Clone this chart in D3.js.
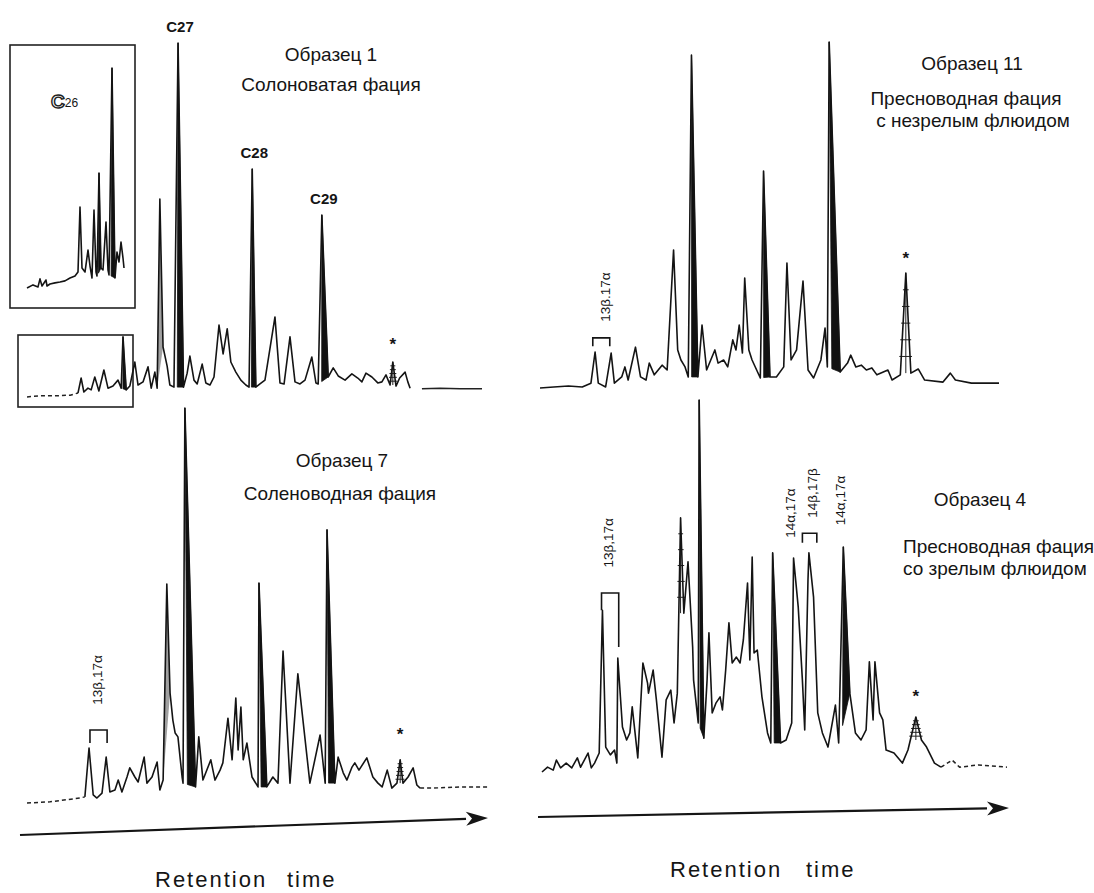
<!DOCTYPE html>
<html>
<head>
<meta charset="utf-8">
<script src="https://cdn.jsdelivr.net/npm/d3@7"></script>
<style>
  body { margin: 0; background: #fff; }
  text { font-family: "Liberation Sans", Arial, sans-serif; fill: #151515; }
</style>
</head>
<body>
<svg id="chart" width="1094" height="893"></svg>
<script>
// ---------- data: retention time (0-100) vs relative signal (0-100) ----------

// Образец 1 - main trace
var s1Lead = [[0,-1.4],[2.9,-1.1],[6.2,-1.1],[9.5,-0.9],[11.2,-0.3]];
var s1Trace = [[11.2,-0.3],[11.9,4.0],[12.5,0],[13.4,1.1],[14.1,0.6],[14.9,4.3],[15.8,0.3],[16.9,6.3],[17.8,1.1],[18.9,1.7],[20.0,3.4],[20.7,1.1],[21.1,15.8],[21.8,0.6],[22.6,1.7],[23.7,8.6],[24.4,2.0],[25.5,2.9],[26.6,7.2],[27.3,1.1],[28.1,5.7],[28.6,1.1],[29.2,55.3],[29.9,12.9],[30.8,7.4],[31.4,2.0],[32.3,1.4],[33.2,100],[34.4,1.4],[35.2,5.4],[35.8,10.3],[36.7,3.4],[37.4,2.3],[38.5,8.0],[39.3,2.6],[40.2,2.0],[41.1,4.3],[42.2,19.2],[43.1,10.9],[44.0,18.1],[44.8,8.6],[45.9,5.7],[47.0,3.4],[48.1,2.0],[48.8,1.4],[49.5,63.9],[50.3,1.4],[51.2,2.3],[52.3,3.4],[54.5,21.5],[55.6,2.6],[56.5,2.3],[57.8,15.8],[58.9,2.9],[60.0,2.3],[61.1,3.4],[62.6,10.0],[63.5,2.6],[64.0,2.3],[64.8,50.7],[66.2,4.3],[67.3,6.9],[68.4,4.6],[69.9,3.4],[71.4,5.2],[72.7,4.0],[73.6,2.9],[74.5,5.4],[75.8,4.3],[77.1,2.6],[78.0,2.9],[78.9,4.9],[79.8,2.0],[80.4,8.6],[81.1,1.7],[81.9,4.0],[83.1,5.7],[83.7,2.9],[84.2,1.1]];
var s1Tail = [[86.8,0.9],[90.8,1.1],[95.2,0.9],[100,0.9]];
var s1Filled = [21.1, 33.2, 49.5, 64.8];
var s1Grey = [29.2];
var s1Hatched = [80.4];
var s1Star = [80.4];
var s1LabelTimes = [33.2, 49.5, 64.8];
var s1LabelNames = ["C27", "C28", "C29"];
var s1Title = ["Образец 1", "Солоноватая фация"];

// Образец 1 - enlarged C26 window
var s1InsetTrace = [[0,0.9],[6,2.3],[11,1.4],[13,5.0],[15,1.8],[19,4.5],[20,1.8],[23,2.7],[28,3.2],[33,3.6],[38,4.1],[43,5.4],[48,6.3],[51,8.1],[53,37.4],[55,9.9],[58,8.1],[61,18.0],[63,10.8],[65,5.4],[67,36.0],[69,8.1],[70,6.3],[72,52.7],[74,9.9],[76,9.0],[79,30.6],[81,9.0],[82,6.8],[85,100],[88,5.4],[90,17.1],[92,12.6],[94,21.6],[96,14.4],[97,9.9]];
var s1InsetFilled = [72, 85];

// Образец 11
var s11Trace = [[0,0],[3.0,0.3],[6.2,0.6],[9.2,0.3],[11.1,1.4],[12.0,10.4],[12.7,1.4],[14.3,0.3],[15.5,10.1],[16.2,1.4],[17.8,3.2],[18.5,6.1],[19.2,2.3],[20.8,11.8],[21.9,3.2],[23.1,2.3],[23.8,7.2],[24.9,3.8],[26.6,6.6],[27.7,5.2],[29.1,39.9],[30.0,11.0],[30.7,8.1],[31.6,6.1],[32.3,3.2],[33.0,96.2],[34.4,3.2],[35.3,18.2],[36.3,5.2],[37.2,8.1],[38.1,11.0],[38.8,7.2],[40.0,8.1],[40.9,6.1],[42.0,13.9],[42.7,11.0],[43.4,18.2],[44.1,10.1],[44.6,31.8],[45.5,11.0],[46.2,8.1],[48.0,2.9],[48.7,62.7],[50.1,3.2],[51.5,3.2],[53.1,6.1],[53.8,36.1],[54.7,8.1],[55.9,11.0],[57.3,30.9],[58.4,5.2],[59.6,2.9],[61.2,8.1],[62.1,17.3],[62.6,6.1],[63.0,100],[65.4,4.6],[67.0,7.2],[67.7,9.5],[68.8,6.1],[70.0,6.6],[71.1,5.2],[72.3,5.8],[73.4,3.8],[75.8,5.2],[76.7,2.3],[78.5,3.8],[79.7,33.2],[80.8,4.3],[82.4,5.5],[83.8,2.3],[87.8,1.7],[89.4,4.3],[90.5,2.3],[94.0,1.4],[100,1.4]];
var s11Filled = [33.0, 48.7, 63.0];
var s11Hatched = [79.7];
var s11Star = [79.7];
var s11Title = ["Образец 11", "Пресноводная фация", "с незрелым флюидом"];

// Образец 7
var s7Lead = [[0,-3.4],[5.0,-3.1],[11.4,-2.1],[12.5,-1.8]];
var s7Trace = [[12.5,-1.8],[13.4,11.0],[14.3,-1.3],[15.1,-2.1],[16.2,-0.8],[17.1,8.6],[17.9,-0.5],[19.0,0],[19.7,2.6],[20.5,-0.5],[21.6,3.4],[22.2,5.8],[23.3,3.4],[24.0,2.1],[25.3,8.6],[25.9,1.8],[27.0,3.4],[28.1,7.3],[28.7,0],[29.4,2.6],[30.2,53.9],[30.9,25.4],[31.5,18.3],[32.0,14.9],[32.6,13.9],[33.5,3.4],[33.7,1.8],[34.1,100],[36.4,0.8],[37.1,13.9],[38.0,2.6],[39.7,7.9],[40.6,2.6],[41.7,5.2],[42.3,7.1],[43.4,18.8],[44.3,7.9],[45.1,24.1],[45.6,10.5],[46.2,21.7],[46.7,7.9],[47.5,12.3],[48.6,3.4],[49.9,0.8],[50.1,54.2],[51.8,0.8],[53.1,3.4],[54.2,1.8],[55.3,36.4],[56.8,1.8],[58.5,30.4],[61.1,1.8],[63.3,14.4],[64.4,1.8],[64.8,68.1],[66.5,1.8],[67.2,8.6],[68.3,4.5],[69.1,2.6],[70.2,6.0],[70.8,7.1],[71.7,5.2],[73.4,8.4],[74.7,3.4],[75.8,1.8],[76.7,0.8],[77.8,5.2],[78.8,0.5],[79.9,1.8],[80.6,7.9],[81.2,1.8],[82.3,3.4],[83.4,5.8],[84.2,1.3],[84.9,0.5]];
var s7Tail = [[84.9,0.5],[87.7,0.5],[93.5,0.8],[100,0.8]];
var s7Filled = [34.1, 50.1, 64.8];
var s7Grey = [30.2];
var s7Hatched = [80.6];
var s7Star = [80.6];
var s7Title = ["Образец 7", "Соленоводная фация"];

// Образец 4
var s4Trace = [[0,0],[1.2,1.3],[2.4,0.5],[3.1,3.2],[4.0,1.1],[5.2,2.4],[6.4,1.1],[7.6,3.8],[8.3,1.3],[9.9,5.1],[10.6,1.1],[11.3,2.4],[12.3,5.1],[13.0,43.5],[13.7,6.7],[14.7,4.6],[15.6,5.9],[16.1,2.4],[16.3,30.6],[17.3,12.1],[18.2,8.6],[18.9,10.5],[19.4,17.5],[20.6,3.8],[21.7,29.3],[22.7,23.9],[22.9,21.2],[23.9,27.4],[24.6,19.4],[25.8,4.0],[26.7,19.4],[27.7,22.0],[28.4,13.2],[29.1,21.2],[29.8,68.3],[30.5,42.7],[31.4,56.5],[32.4,33.6],[32.6,24.7],[33.6,13.2],[33.8,100],[34.8,9.1],[35.5,24.7],[35.9,37.4],[36.6,15.9],[37.4,18.5],[38.3,20.2],[38.8,16.7],[39.5,27.4],[40.2,40.1],[40.9,29.3],[41.8,30.9],[42.6,29.3],[43.3,35.5],[44.2,50.8],[44.7,30.1],[45.2,57.8],[45.6,32.0],[46.3,32.8],[47.3,20.2],[48.5,10.5],[49.2,7.8],[49.6,58.9],[51.3,7.8],[52.5,8.6],[53.7,13.2],[54.1,57.5],[55.1,44.4],[56.0,24.7],[56.5,11.3],[57.2,51.6],[57.4,58.9],[58.4,47.0],[59.3,15.9],[60.3,10.5],[61.5,6.7],[63.1,18.0],[63.8,7.8],[64.8,60.5],[66.2,21.2],[67.4,10.5],[68.6,8.6],[69.7,11.3],[70.4,29.6],[71.2,14.0],[71.6,29.6],[72.6,15.9],[73.3,14.0],[74.0,5.9],[75.7,5.1],[77.5,2.4],[78.7,5.9],[80.4,14.8],[81.6,8.6],[82.7,6.7],[84.4,2.4],[85.8,1.3]];
var s4Tail = [[85.8,1.3],[88.2,3.2],[89.8,1.3],[93.9,1.9],[100,1.3]];
var s4Filled = [33.8, 49.6, 64.8];
var s4Hatched = [29.8, 80.4];
var s4Star = [80.4];
var s4Title = ["Образец 4", "Пресноводная фация", "со зрелым флюидом"];

// isomer annotations: [time, centre of label height]
var s11IsoText = ["13β.17α"];
var s11IsoPos = [[14.3, 26.3]];
var s7IsoText = ["13β,17α"];
var s7IsoPos = [[15.3, 28.8]];
var s4IsoText = ["13β,17α", "14α,17α", "14β,17β", "14α,17α"];
var s4IsoPos = [[14.2, 61.6], [53.4, 69.6], [58.1, 75.0], [64.3, 73.0]];
// brackets: [t left, t right, v top, v left end, v right end]
var s11Brackets = [[11.5, 15.2, 14.5, 12.1, 12.1]];
var s7Brackets = [[13.6, 17.3, 15.7, 12.3, 12.3]];
var s4Brackets = [[12.8, 16.5, 48.1, 43.5, 33.6], [56.0, 59.1, 64.2, 61.6, 61.6]];

var axisTitle = ["Retention", "time"];

// ---------- drawing ----------
var svg = d3.select("#chart");
svg.append("rect").attr("width", 1094).attr("height", 893).attr("fill", "#fff");

function findPt(trace, t) {
  for (var i = 0; i < trace.length; i++) if (Math.abs(trace[i][0] - t) < 1e-6) return i;
  return -1;
}

function drawTrace(g, cfg) {
  var x = d3.scaleLinear().domain([0, 100]).range(cfg.xr);
  var y = d3.scaleLinear().domain([0, 100]).range(cfg.yr);
  var line = d3.line().x(d => x(d[0])).y(d => y(d[1]));
  var area = d3.line().x(d => x(d[0])).y(d => y(d[1])).curve(d3.curveLinearClosed);

  // filled peaks: black from the apex down to the right half of the base
  (cfg.filled || []).forEach(function(t) {
    var i = findPt(cfg.trace, t);
    if (i < 1) return;
    var a = cfg.trace[i - 1], p = cfg.trace[i], b = cfg.trace[i + 1];
    var f = 0.35;
    var m = [a[0] + (b[0] - a[0]) * f, a[1] + (b[1] - a[1]) * f];
    g.append("path").attr("d", area([m, p, b]))
      .attr("fill", "#111").attr("stroke", "#111").attr("stroke-width", 0.8);
  });
  (cfg.grey || []).forEach(function(t) {
    var i = findPt(cfg.trace, t);
    if (i < 1) return;
    g.append("path").attr("d", area(cfg.trace.slice(i - 1, i + 2)))
      .attr("fill", "#a0a0a0").attr("stroke", "none");
  });
  // hatched peaks
  (cfg.hatched || []).forEach(function(t) {
    var i = findPt(cfg.trace, t);
    if (i < 1) return;
    var a = cfg.trace[i - 1], p = cfg.trace[i], b = cfg.trace[i + 1];
    var base = Math.max(a[1], b[1]);
    for (var k = 1; k <= 5; k++) {
      var v = base + (p[1] - base) * k / 6;
      var tl = a[0] + (p[0] - a[0]) * (v - a[1]) / (p[1] - a[1]);
      var tr = b[0] + (p[0] - b[0]) * (v - b[1]) / (p[1] - b[1]);
      g.append("line").attr("x1", x(tl) - 2).attr("x2", x(tr) + 2)
        .attr("y1", y(v)).attr("y2", y(v)).attr("stroke", "#222").attr("stroke-width", 1);
    }
    g.append("line").attr("x1", x(p[0])).attr("x2", x(p[0]))
      .attr("y1", y(p[1])).attr("y2", y(base)).attr("stroke", "#222").attr("stroke-width", 1);
  });
  // internal standard stars
  (cfg.stars || []).forEach(function(t) {
    var i = findPt(cfg.trace, t);
    g.append("text").attr("x", x(t)).attr("y", y(cfg.trace[i][1]) - cfg.starGap)
      .attr("text-anchor", "middle").attr("dominant-baseline", "central")
      .attr("font-size", 17).attr("font-weight", "bold").text("*");
  });

  g.append("path").attr("d", line(cfg.trace))
    .attr("fill", "none").attr("stroke", "#141414").attr("stroke-width", 1.6)
    .attr("stroke-linejoin", "round");
  if (cfg.lead) g.append("path").attr("d", line(cfg.lead))
    .attr("fill", "none").attr("stroke", "#222").attr("stroke-width", 1.5)
    .attr("stroke-dasharray", "4,3");
  if (cfg.tail) g.append("path").attr("d", line(cfg.tail))
    .attr("fill", "none").attr("stroke", "#222").attr("stroke-width", 1.5)
    .attr("stroke-dasharray", cfg.tailDash || null);

  // peak names
  (cfg.labelTimes || []).forEach(function(t, j) {
    var i = findPt(cfg.trace, t);
    g.append("text").attr("x", x(t) + 2).attr("y", y(cfg.trace[i][1]) - 11)
      .attr("text-anchor", "middle").attr("font-size", 15).attr("font-weight", "bold")
      .text(cfg.labelNames[j]);
  });
  // isomer brackets and labels
  (cfg.brackets || []).forEach(function(b) {
    g.append("path")
      .attr("d", d3.line()([[x(b[0]), y(b[3])], [x(b[0]), y(b[2])], [x(b[1]), y(b[2])], [x(b[1]), y(b[4])]]))
      .attr("fill", "none").attr("stroke", "#151515").attr("stroke-width", 1.6);
  });
  (cfg.isoText || []).forEach(function(s, j) {
    var px = x(cfg.isoPos[j][0]), py = y(cfg.isoPos[j][1]);
    g.append("text").attr("transform", "translate(" + px + "," + py + ") rotate(-90)")
      .attr("text-anchor", "middle").attr("dominant-baseline", "central")
      .attr("font-size", 13.5).text(s);
  });
  return { x: x, y: y };
}

function drawTitle(lines, pos) {
  lines.forEach(function(s, j) {
    svg.append("text").attr("x", pos[j][0]).attr("y", pos[j][1])
      .attr("text-anchor", pos[j][2] || "middle").attr("font-size", 19).text(s);
  });
}

function drawArrow(p0, p1, label, lx) {
  var g = svg.append("g");
  var ang = Math.atan2(p1[1] - p0[1], p1[0] - p0[0]);
  var L = 22, Wd = 7;
  var bx = p1[0] - L * Math.cos(ang), by = p1[1] - L * Math.sin(ang);
  g.append("line").attr("x1", p0[0]).attr("y1", p0[1]).attr("x2", bx).attr("y2", by)
    .attr("stroke", "#151515").attr("stroke-width", 2.2);
  g.append("path").attr("d", d3.line()([
      [p1[0], p1[1]],
      [bx + Wd * Math.sin(ang), by - Wd * Math.cos(ang)],
      [bx + 6 * Math.cos(ang), by + 6 * Math.sin(ang)],
      [bx - Wd * Math.sin(ang), by + Wd * Math.cos(ang)]]) + "Z")
    .attr("fill", "#151515");
  g.append("text").attr("x", lx[0]).attr("y", lx[2]).attr("font-size", 22)
    .attr("letter-spacing", 2).text(label[0]);
  g.append("text").attr("x", lx[1]).attr("y", lx[2]).attr("font-size", 22)
    .attr("letter-spacing", 2).text(label[1]);
}

// Образец 1 with the inset boxes
var gA = svg.append("g");
gA.append("rect").attr("x", 10).attr("y", 45).attr("width", 125).attr("height", 263)
  .attr("fill", "none").attr("stroke", "#222").attr("stroke-width", 1.6);
gA.append("rect").attr("x", 18).attr("y", 335).attr("width", 115).attr("height", 72)
  .attr("fill", "none").attr("stroke", "#222").attr("stroke-width", 1.6);
drawTrace(gA, { xr: [27, 482], yr: [392, 43], trace: s1Trace, lead: s1Lead, tail: s1Tail,
  filled: s1Filled, grey: s1Grey, hatched: s1Hatched, stars: s1Star, starGap: 17,
  labelTimes: s1LabelTimes, labelNames: s1LabelNames });
drawTrace(gA, { xr: [27, 127], yr: [290, 68], trace: s1InsetTrace, filled: s1InsetFilled });
var c26 = gA.append("text").attr("x", 51).attr("y", 108);
c26.append("tspan").attr("font-size", 19).attr("font-weight", "bold").attr("fill", "#fff")
  .attr("stroke", "#222").attr("stroke-width", 1.4).text("C");
c26.append("tspan").attr("font-size", 12).attr("dy", -1).text("26");
drawTitle(s1Title, [[331, 61], [331, 91]]);

// Образец 11
drawTrace(svg.append("g"), { xr: [540, 999], yr: [388, 42], trace: s11Trace,
  filled: s11Filled, hatched: s11Hatched, stars: s11Star, starGap: 15,
  brackets: s11Brackets, isoText: s11IsoText, isoPos: s11IsoPos });
drawTitle(s11Title, [[972, 70], [966, 105], [973, 127]]);

// Образец 7
drawTrace(svg.append("g"), { xr: [27, 490], yr: [790, 408], trace: s7Trace, lead: s7Lead,
  tail: s7Tail, tailDash: "4,3", filled: s7Filled, grey: s7Grey, hatched: s7Hatched,
  stars: s7Star, starGap: 25, brackets: s7Brackets, isoText: s7IsoText, isoPos: s7IsoPos });
drawTitle(s7Title, [[342, 467], [340, 500]]);

// Образец 4
drawTrace(svg.append("g"), { xr: [542, 1007], yr: [772, 400], trace: s4Trace,
  tail: s4Tail, tailDash: "4,3", filled: s4Filled, hatched: s4Hatched,
  stars: s4Star, starGap: 20, brackets: s4Brackets, isoText: s4IsoText, isoPos: s4IsoPos });
drawTitle(s4Title, [[980, 506], [903, 553, "start"], [903, 575, "start"]]);

// retention time axes
drawArrow([20, 835], [488, 818], axisTitle, [155, 287, 887]);
drawArrow([538, 817], [1009, 808], axisTitle, [670, 806, 877]);
</script>
</body>
</html>
